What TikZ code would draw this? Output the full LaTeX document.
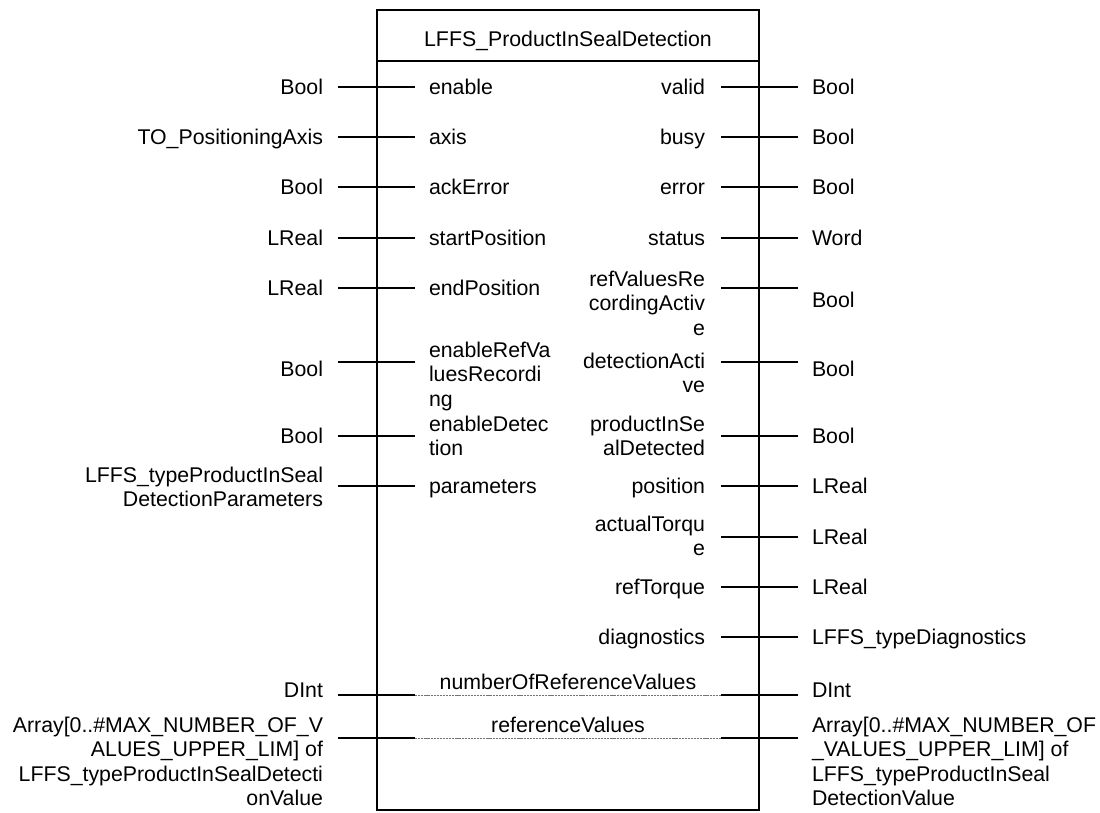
\documentclass[tikz,border=0pt]{standalone}
\usepackage{fontspec}
\setmainfont{Liberation Sans}
\begin{document}
\begin{tikzpicture}[x=1pt,y=-1pt,
  fbox/.style={draw=black,line width=2pt},
  pinline/.style={draw=black,line width=1.6pt},
  inoutline/.style={draw=black!55,line width=0.7pt,dash pattern=on 2.2pt off 0.9pt},
  txt/.style={inner sep=0pt,outer sep=0pt,font=\fontsize{21.3}{24.5}\selectfont},
  inl/.style={txt,anchor=base west,align=left},
  inr/.style={txt,anchor=base east,align=right},
  typl/.style={txt,anchor=base east,align=right},
  typr/.style={txt,anchor=base west,align=left},
  ctr/.style={txt,anchor=base}]
\useasboundingbox (0,0) rectangle (1100,812);

% function block frame and title
\coordinate (bnw) at (377,10);
\coordinate (bse) at (759,810);
\draw[fbox] (bnw) rectangle (bse);
\coordinate (hl) at (377,61);
\coordinate (hr) at (759,61);
\draw[fbox] (hl) -- (hr);
\node[ctr] (title) at (568,46) {LFFS\_ProductInSealDetection};

% ---------- inputs (multi-line texts are placed by their last baseline) ----------
\foreach \n/\y in {1/87,2/137,3/187,4/238,5/288,6/362,7/436,8/486,9/695,10/738}{
  \coordinate (ia\n) at (338,\y);
  \coordinate (ib\n) at (415,\y);
  \draw[pinline] (ia\n) -- (ib\n);
}
\node[inl] (in1) at (429,94) {enable};
\node[inl] (in2) at (429,144) {axis};
\node[inl] (in3) at (429,194) {ackError};
\node[inl] (in4) at (429,245) {startPosition};
\node[inl] (in5) at (429,295) {endPosition};
\node[inl] (in6) at (429,406) {enableRefVa\\luesRecordi\\ng};
\node[inl] (in7) at (429,455.5) {enableDetec\\tion};
\node[inl] (in8) at (429,493) {parameters};

\node[typl] (it1) at (323,94) {Bool};
\node[typl] (it2) at (323,144) {TO\_PositioningAxis};
\node[typl] (it3) at (323,194) {Bool};
\node[typl] (it4) at (323,245) {LReal};
\node[typl] (it5) at (323,295) {LReal};
\node[typl] (it6) at (323,376) {Bool};
\node[typl] (it7) at (323,443) {Bool};
\node[typl] (it8) at (323,506.5) {LFFS\_typeProductInSeal\\DetectionParameters};
\node[typl] (it9) at (323,697) {DInt};
\node[typl] (it10) at (323,805.5) {Array[0..\#MAX\_NUMBER\_OF\_V\\ALUES\_UPPER\_LIM] of\\LFFS\_typeProductInSealDetecti\\onValue};

% ---------- outputs ----------
\foreach \n/\y in {1/87,2/137,3/187,4/238,5/288,6/362,7/436,8/486,9/537,10/587,11/637,12/695,13/738}{
  \coordinate (oa\n) at (721,\y);
  \coordinate (ob\n) at (798,\y);
  \draw[pinline] (oa\n) -- (ob\n);
}
\node[inr] (on1) at (705,94) {valid};
\node[inr] (on2) at (705,144) {busy};
\node[inr] (on3) at (705,194) {error};
\node[inr] (on4) at (705,245) {status};
\node[inr] (on5) at (705,335) {refValuesRe\\cordingActiv\\e};
\node[inr] (on6) at (705,392.5) {detectionActi\\ve};
\node[inr] (on7) at (705,455.5) {productInSe\\alDetected};
\node[inr] (on8) at (705,493) {position};
\node[inr] (on9) at (705,555.5) {actualTorqu\\e};
\node[inr] (on10) at (705,594) {refTorque};
\node[inr] (on11) at (705,644) {diagnostics};

\node[typr] (ot1) at (812,94) {Bool};
\node[typr] (ot2) at (812,144) {Bool};
\node[typr] (ot3) at (812,194) {Bool};
\node[typr] (ot4) at (812,245) {Word};
\node[typr] (ot5) at (812,307) {Bool};
\node[typr] (ot6) at (812,376) {Bool};
\node[typr] (ot7) at (812,443) {Bool};
\node[typr] (ot8) at (812,493) {LReal};
\node[typr] (ot9) at (812,544) {LReal};
\node[typr] (ot10) at (812,594) {LReal};
\node[typr] (ot11) at (812,644) {LFFS\_typeDiagnostics};
\node[typr] (ot12) at (812,697) {DInt};
\node[typr] (ot13) at (812,805.5) {Array[0..\#MAX\_NUMBER\_OF\\\_VALUES\_UPPER\_LIM] of\\LFFS\_typeProductInSeal\\DetectionValue};

% ---------- in/out pins passing through the block ----------
\draw[inoutline] (ib9) -- (oa12);
\draw[inoutline] (ib10) -- (oa13);
\node[ctr] (io1) at (568,689) {numberOfReferenceValues};
\node[ctr] (io2) at (568,732) {referenceValues};
\end{tikzpicture}
\end{document}
